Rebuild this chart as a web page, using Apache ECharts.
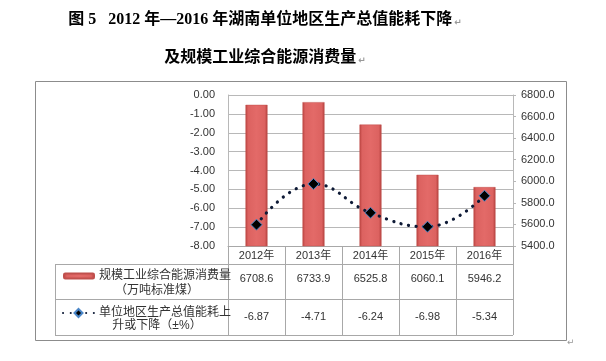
<!DOCTYPE html>
<html><head><meta charset="utf-8">
<script src="https://cdn.jsdelivr.net/npm/echarts@6/dist/echarts.min.js"></script>
<style>html,body{margin:0;padding:0;background:#fff}#c{width:606px;height:361px}</style>
</head><body><div id="c"></div>
<script>
var categories = ['2012年','2013年','2014年','2015年','2016年'];
var energyValues = [6708.6, 6733.9, 6525.8, 6060.1, 5946.2];
var changeValues = [-6.87, -4.71, -6.24, -6.98, -5.34];
var energyName = '规模工业综合能源消费量（万吨标准煤）';
var changeName = '单位地区生产总值能耗上升或下降（±%）';
var energyLines = ['规模工业综合能源消费量', '（万吨标准煤）'];
var changeLines = ['单位地区生产总值能耗上', '升或下降（±%）'];
var titleLine1 = '图 5   2012 年—2016 年湖南单位地区生产总值能耗下降';
var titleLine2 = '及规模工业综合能源消费量';

var chart = echarts.init(document.getElementById('c'), null, {renderer:'canvas'});
var sans = '"Liberation Sans", "Noto Sans CJK SC", sans-serif';
var gridCol = '#b8b8b8';
var tableCol = '#a8a8a8';

var titleStyle = {
  rich: {
    t: {fontFamily:'"Liberation Serif", "Noto Sans CJK SC", serif', fontWeight:'bold', fontSize:16, color:'#000'},
    m: {fontFamily:'DejaVu Sans', fontSize:9, color:'#999', padding:[6,0,0,2]}
  }
};

var option = {
  backgroundColor:'#fff',
  animation:false,
  title:[
    {text:'{t|'+titleLine1+'}{m|↵}', left:260, top:7, textAlign:'center', textStyle:titleStyle},
    {text:'{t|'+titleLine2+'}{m|↵}', left:260, top:45, textAlign:'center', textStyle:titleStyle}
  ],
  grid:{left:228, right:93, top:95, bottom:115},
  legend:[
    {data:[energyName], left:58, top:265, itemWidth:30, itemHeight:5, selectedMode:false,
     formatter:function(){return energyLines[0];}, textStyle:{fontFamily:sans, fontSize:12, color:'#333'}},
    {data:[changeName], left:57, top:302, itemWidth:31, itemHeight:10, selectedMode:false,
     formatter:function(){return changeLines[0];}, textStyle:{fontFamily:sans, fontSize:12, color:'#333'}}
  ],
  xAxis:[
    {type:'category', data:categories, position:'bottom',
     axisLine:{show:true, onZero:false, lineStyle:{color:tableCol}},
     axisTick:{show:true, inside:false, length:89, lineStyle:{color:tableCol}},
     axisLabel:{fontFamily:sans, fontSize:11, color:'#333', margin:4}},
    {type:'category', data:energyValues.map(function(v){return v.toFixed(1);}), position:'bottom', offset:27,
     axisLine:{show:false, onZero:false}, axisTick:{show:false},
     axisLabel:{fontFamily:sans, fontSize:11, color:'#333', margin:0}},
    {type:'category', data:changeValues.map(function(v){return v.toFixed(2);}), position:'bottom', offset:65,
     axisLine:{show:false, onZero:false}, axisTick:{show:false},
     axisLabel:{fontFamily:sans, fontSize:11, color:'#333', margin:0}}
  ],
  yAxis:[
    {type:'value', min:-8, max:0, interval:1, position:'left',
     axisLine:{show:true, onZero:false, lineStyle:{color:gridCol}}, axisTick:{show:false},
     axisLabel:{fontFamily:sans, fontSize:11, color:'#333', margin:13, formatter:function(v){return v.toFixed(2);}},
     splitLine:{show:true, lineStyle:{color:gridCol}}},
    {type:'value', min:5400, max:6800, interval:200, position:'right',
     axisLine:{show:true, onZero:false, lineStyle:{color:gridCol}},
     axisTick:{show:true, inside:false, length:3, lineStyle:{color:gridCol}},
     axisLabel:{fontFamily:sans, fontSize:11, color:'#333', margin:8, formatter:function(v){return v.toFixed(1);}},
     splitLine:{show:false}}
  ],
  series:[
    {name:energyName, type:'bar', xAxisIndex:0, yAxisIndex:1, data:energyValues, barWidth:22,
     itemStyle:{
       color:new echarts.graphic.LinearGradient(0,0,1,0,[
         {offset:0, color:'#b8403e'},{offset:0.12, color:'#dc6260'},
         {offset:0.5, color:'#e36a68'},{offset:0.88, color:'#dc6260'},{offset:1, color:'#b03c3a'}]),
       borderColor:'#c0504d', borderWidth:0.5}},
    {name:changeName, type:'line', xAxisIndex:0, yAxisIndex:0, data:changeValues, smooth:0.45,
     symbol:'diamond', symbolSize:11,
     lineStyle:{color:'#0e1a36', width:3.2, type:[0.1,7.6], cap:'round'},
     itemStyle:{color:'#000', borderColor:'#4a86c8', borderWidth:1}}
  ],
  graphic:[
    {type:'rect', shape:{x:35.5, y:81.5, width:531, height:259}, style:{fill:null, stroke:'#8c8c8c', lineWidth:1}, z:-10, silent:true},
    {type:'line', shape:{x1:55, y1:264.5, x2:513, y2:264.5}, style:{stroke:tableCol, lineWidth:1}},
    {type:'line', shape:{x1:55, y1:299.5, x2:513, y2:299.5}, style:{stroke:tableCol, lineWidth:1}},
    {type:'line', shape:{x1:55, y1:335.5, x2:513, y2:335.5}, style:{stroke:tableCol, lineWidth:1}},
    {type:'line', shape:{x1:55.5, y1:264, x2:55.5, y2:336}, style:{stroke:tableCol, lineWidth:1}},
    {type:'text', style:{text:energyLines[1], x:157, y:291, textAlign:'center', textVerticalAlign:'middle', font:'12px '+sans, fill:'#333'}},
    {type:'text', style:{text:changeLines[1], x:157, y:326, textAlign:'center', textVerticalAlign:'middle', font:'12px '+sans, fill:'#333'}},
    {type:'text', style:{text:'↵', x:567, y:338, font:'9px DejaVu Sans', fill:'#999'}}
  ]
};
chart.setOption(option);
</script></body></html>
